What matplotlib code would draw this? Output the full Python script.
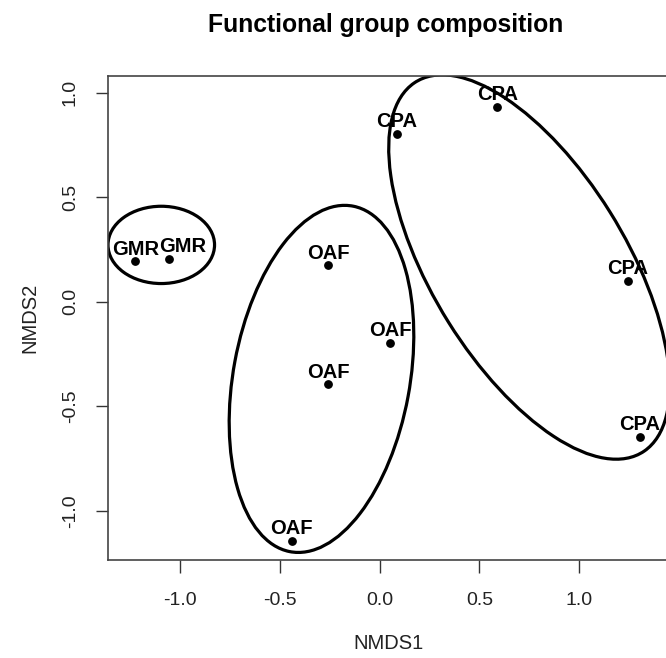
import matplotlib
matplotlib.use('Agg')
import matplotlib.pyplot as plt
from matplotlib.patches import Ellipse
import numpy as np

plt.rcParams['font.family'] = ['Liberation Sans', 'DejaVu Sans']

# NMDS site scores
groups = ['GMR', 'GMR', 'OAF', 'OAF', 'OAF', 'OAF', 'CPA', 'CPA', 'CPA', 'CPA']
nmds1 = [-1.224, -1.055, -0.259, 0.053, -0.259, -0.440, 0.088, 0.590, 1.245, 1.303]
nmds2 = [0.194, 0.206, 0.174, -0.196, -0.395, -1.146, 0.805, 0.934, 0.102, -0.647]
# sideways nudge of labels (points), second GMR label is pushed right
label_dx = [0, 10, 0, 0, 0, 0, 0, 0, 0, 0]

# group ellipses: centre x, centre y, width, height, angle (deg)
ell_x = [-1.094, -0.291, 0.750]
ell_y = [0.2725, -0.369, 0.1665]
ell_w = [0.534, 1.684, 2.106]
ell_h = [0.370, 0.884, 0.966]
ell_a = [0.0, 79.0, -56.8]

fig = plt.figure(figsize=(6.66, 6.58), dpi=100)
ax = fig.add_axes([108/666, 1-560/658, 1-108/666 + 0.004, (560-75.6)/658])

ax.scatter(nmds1, nmds2, s=28, color='black', zorder=3)
for x, y, g, dx in zip(nmds1, nmds2, groups, label_dx):
    ax.annotate(g, (x, y), xytext=(dx, 2), textcoords='offset points',
                ha='center', va='bottom', fontsize=14.5, fontweight='bold')

for cx, cy, w, h, a in zip(ell_x, ell_y, ell_w, ell_h, ell_a):
    ax.add_patch(Ellipse((cx, cy), w, h, angle=a, fill=False,
                         edgecolor='black', linewidth=2.3, zorder=2))

ax.set_xlim(-1.361, 1.449)
ax.set_ylim(-1.236, 1.083)
ax.set_xticks([-1.0, -0.5, 0.0, 0.5, 1.0])
ax.set_yticks([-1.0, -0.5, 0.0, 0.5, 1.0])
ax.set_xticklabels(['-1.0', '-0.5', '0.0', '0.5', '1.0'])
ax.set_yticklabels(['-1.0', '-0.5', '0.0', '0.5', '1.0'], rotation=90, va='center')
ax.tick_params(direction='out', length=9, width=1, colors='#333333',
               labelsize=14, labelcolor='#222222', pad=14)
ax.tick_params(axis='y', pad=12)
for s in ax.spines.values():
    s.set_color('#444444')
    s.set_linewidth(1.2)
ax.spines['right'].set_visible(False)

ax.set_xlabel('NMDS1', fontsize=14.5, color='#222222', labelpad=18)
ax.set_ylabel('NMDS2', fontsize=14.5, color='#222222', labelpad=16)
fig.text(386/666, 1-25/658, 'Functional group composition', ha='center', va='center',
         fontsize=17.8, fontweight='bold')

fig.savefig('out.png', dpi=100)
